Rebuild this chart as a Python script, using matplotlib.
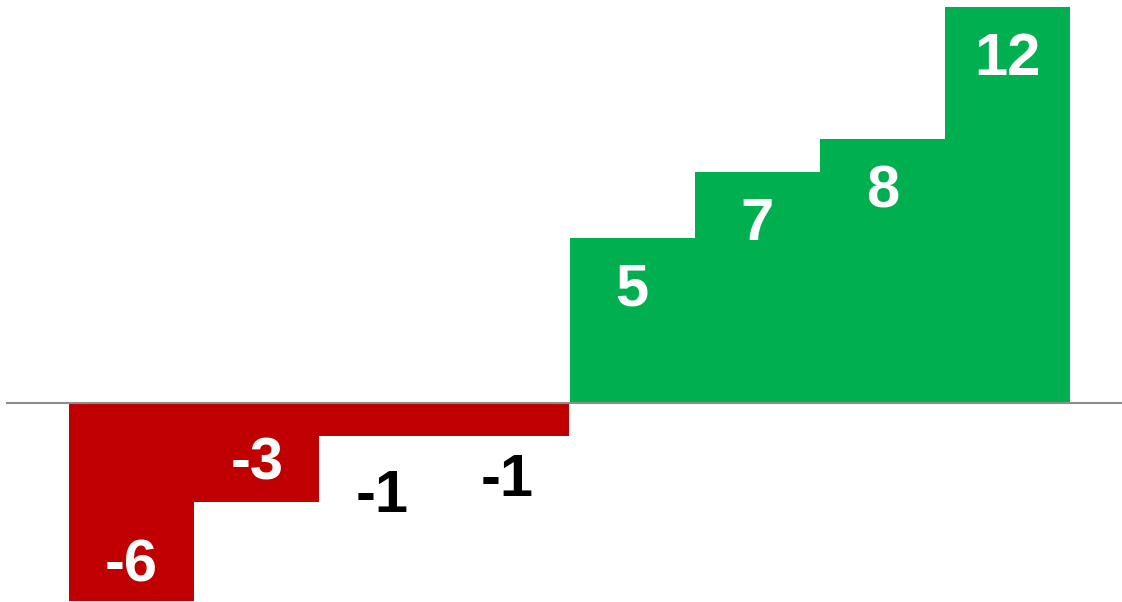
import numpy as np
import matplotlib
matplotlib.use("Agg")
import matplotlib.pyplot as plt

# data
values = [-6, -3, -1, -1, 5, 7, 8, 12]
labels = ["-6", "-3", "-1", "-1", "5", "7", "8", "12"]

# style
bar_colors = ["#C00000", "#C00000", "#C00000", "#C00000",
              "#00B050", "#00B050", "#00B050", "#00B050"]
text_colors = ["white", "white", "black", "black",
               "white", "white", "white", "white"]
# baseline offset of each label from the bar end, in pixels (+ = up)
label_dy = [19.5, 22.5, -75.5, -60.5, -68, -68, -68, -68]

W, H = 1122, 602
fig = plt.figure(figsize=(W / 100, H / 100), dpi=100)
ax = fig.add_axes([0, 0, 1, 1])

x = np.arange(len(values))
ax.bar(x, values, width=1.0, color=bar_colors, zorder=2)

# limits so that bars line up with the reference pixels
px_per_x = 125.125
px_per_y = 33.0
ax.set_xlim(-0.5 - 69 / px_per_x, 7.5 + 52 / px_per_x)
ax.set_ylim(-(H - 403) / px_per_y, 403 / px_per_y)

ax.axhline(0, xmin=7 / W, xmax=1, color="#8c8c8c", lw=1.5, zorder=3)

for xi, v, lab, c, dy in zip(x, values, labels, text_colors, label_dy):
    ax.annotate(lab, (xi, v), xytext=(0, dy * 0.72), textcoords="offset points",
                ha="center", va="baseline", color=c, fontsize=43,
                fontweight="bold", family=["Liberation Sans", "DejaVu Sans"],
                zorder=4)

ax.axis("off")
fig.savefig("out.png", dpi=100)
